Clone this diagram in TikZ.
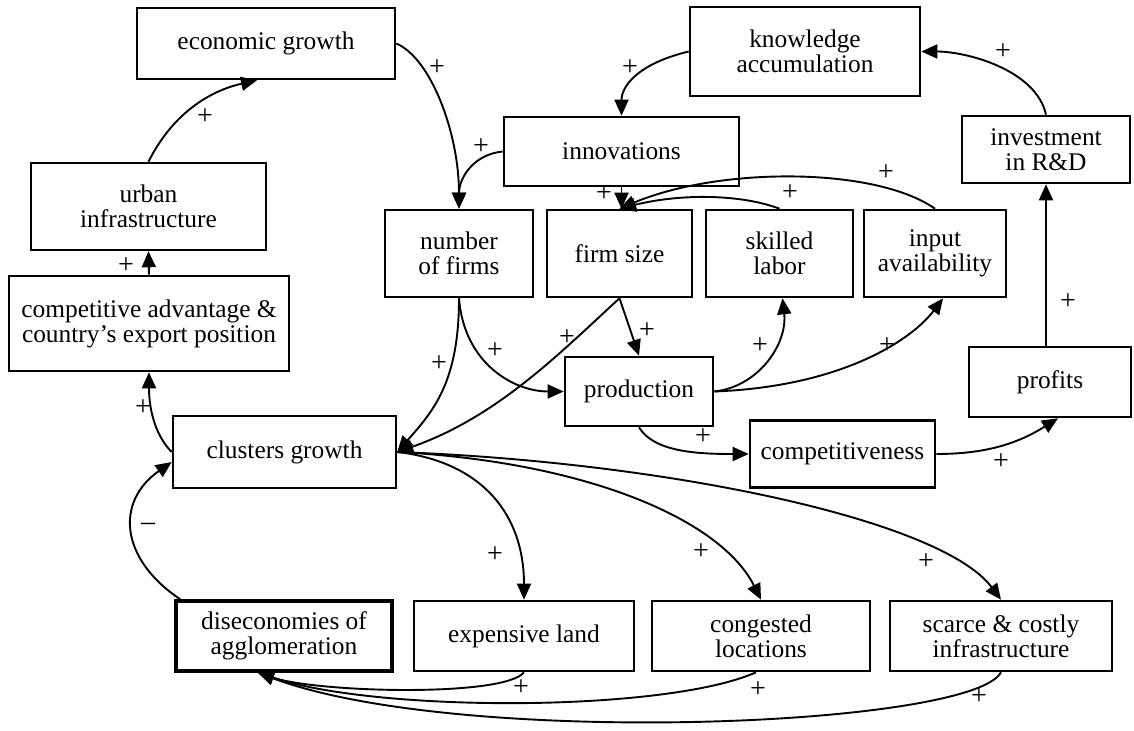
\documentclass[tikz,border=0pt]{standalone}
\usepackage{fontspec}
\setmainfont{Liberation Serif}
\usepackage{tikz}
\usetikzlibrary{arrows.meta}
\usetikzlibrary{calc}

\begin{document}
\begin{tikzpicture}[x=0.5pt,y=-0.5pt,
        box/.style={draw, line width=1.3pt, align=center, inner sep=0pt, font=\fontsize{12.7}{12.5}\selectfont},
        arr/.style={line width=0.95pt, -{Triangle[length=8pt,width=7pt]}},
        sign/.style={inner sep=0pt, font=\fontsize{14}{14}\selectfont}]
        \useasboundingbox (0,0) rectangle (1134,731);

        % top row
        \node[box, minimum width=129pt, minimum height=35.5pt] (econ) at (266,43.5) {economic growth};
        \node[box, minimum width=115pt, minimum height=44.5pt] (know) at (805,51.5) {knowledge\\accumulation};
        \node[box, minimum width=117.5pt, minimum height=34.5pt] (innov) at (621.5,151.5) {innovations};
        \node[box, minimum width=84pt, minimum height=33.5pt] (invest) at (1046,149.5) {investment\\in R\&D};

        % left column
        \node[box, minimum width=117.5pt, minimum height=43.5pt] (urban) at (148.5,206.5) {urban\\infrastructure};
        \node[box, minimum width=140pt, minimum height=47.5pt] (comp) at (149,323.5) {competitive advantage \&\\country's export position};
        \node[box, minimum width=111.5pt, minimum height=36pt] (clusters) at (284.5,452) {clusters growth};

        % middle row
        \node[box, minimum width=74pt, minimum height=43.5pt] (nfirms) at (459,253.5) {number\\of firms};
        \node[box, minimum width=72.5pt, minimum height=43.5pt] (fsize) at (619.5,253.5) {firm size};
        \node[box, minimum width=73.5pt, minimum height=43.5pt] (skilled) at (779.5,253.5) {skilled\\labor};
        \node[box, minimum width=71pt, minimum height=43.5pt] (input) at (935,253.5) {input\\availability};
        \node[box, minimum width=74pt, minimum height=34.5pt] (prod) at (639,391.5) {production};
        \node[box, minimum width=81pt, minimum height=35pt] (profits) at (1050,382) {profits};
        \node[box, minimum width=92.5pt, minimum height=33.5pt] (compet) at (842.5,454) {competitiveness};

        % bottom row
        \node[box, line width=1.7pt, minimum width=108pt, minimum height=35pt] (disecon) at (284,636) {diseconomies of\\agglomeration};
        \node[box, minimum width=110pt, minimum height=35pt] (expland) at (524,636) {expensive land};
        \node[box, minimum width=109pt, minimum height=35pt] (cong) at (761,636) {congested\\locations};
        \node[box, minimum width=111pt, minimum height=35pt] (scarce) at (1001,636) {scarce \& costly\\infrastructure};
        \coordinate (dtip) at ($(disecon.south)+(-26,0)$);

        % growth loop
        \draw[arr] (econ.east) .. controls +(35,15) and +(0,-75) .. (nfirms.north);
        \draw[arr] (innov.west) .. controls +(-30,3) and +(0,-30) .. (nfirms.north);
        \draw[arr] (know.west) .. controls +(-50,12) and +(0,-30) .. (innov.north);
        \draw[arr] (invest.north) .. controls +(-10,-45) and +(45,0) .. (know.east);
        \draw[arr] (invest.south |- profits.north) -- (invest.south);
        \draw[arr] (compet.east) .. controls +(50,0) and +(-40,25) .. ($(profits.south)+(8,0)$);
        \draw[arr] (prod.south) .. controls +(15,25) and +(-50,0) .. (compet.west);
        \draw[arr] (prod.east) .. controls +(45,-5) and +(5,45) .. ($(skilled.south)+(3,0)$);
        \draw[arr] (prod.east) .. controls +(130,-5) and +(-30,40) .. ($(input.south)+(8,0)$);
        \draw[arr] (fsize.south) -- (prod.north);
        \draw[arr] (nfirms.south) .. controls +(5,65) and +(-50,0) .. (prod.west);
        \draw[arr] (nfirms.south) .. controls +(0,85) and +(35,-40) .. (clusters.east);
        \draw[arr] (fsize.south) .. controls +(-60,55) and +(100,-35) .. (clusters.east);
        \draw[arr] (innov.south) -- (innov.south |- fsize.north);
        \draw[arr] (skilled.north) .. controls +(-40,-15) and +(60,-15) .. (fsize.north);
        \draw[arr] (input.north) .. controls +(-60,-42) and +(100,-42) .. (fsize.north);

        % left loop
        \draw[arr] (clusters.west) .. controls +(-15,-15) and +(0,40) .. (comp.south);
        \draw[arr] (comp.north) -- (urban.south);
        \draw[arr] (urban.north) .. controls +(25,-50) and +(-45,10) .. ($(econ.south)+(-9,0)$);

        % congestion loop
        \draw[arr] (clusters.east) .. controls +(85,10) and +(0,-85) .. (expland.north);
        \draw[arr] (clusters.east) .. controls +(190,10) and +(-40,-80) .. (cong.north);
        \draw[arr] (clusters.east) .. controls +(270,10) and +(-60,-80) .. (scarce.north);
        \draw[arr] (expland.south) .. controls +(-20,25) and +(60,20) .. (dtip);
        \draw[arr] ($(cong.south)+(-5,0)$) .. controls +(-90,40) and +(120,40) .. (dtip);
        \draw[arr] (scarce.south) .. controls +(-30,55) and +(200,75) .. (dtip);
        \draw[arr] ($(disecon.north west)+(6,0)$) .. controls +(-60,-40) and +(-57,40) .. ($(clusters.west)+(0,10)$);

        % polarities
        \node[sign] (s1) at (437,68) {+};
        \node[sign] (s2) at (481,147) {+};
        \node[sign] (s3) at (630,68) {+};
        \node[sign] (s4) at (1003,52) {+};
        \node[sign] (s5) at (1068,302) {+};
        \node[sign] (s6) at (1001,462) {+};
        \node[sign] (s7) at (703,437) {+};
        \node[sign] (s8) at (760,346) {+};
        \node[sign] (s9) at (887,346) {+};
        \node[sign] (s10) at (647,331) {+};
        \node[sign] (s11) at (495,351) {+};
        \node[sign] (s12) at (439,364) {+};
        \node[sign] (s13) at (567,338) {+};
        \node[sign] (s14) at (604,194) {+};
        \node[sign] (s15) at (790,193) {+};
        \node[sign] (s16) at (886,173) {+};
        \node[sign] (s17) at (143,408) {+};
        \node[sign] (s18) at (126,266) {+};
        \node[sign] (s19) at (205,117) {+};
        \node[sign] (s20) at (495,555) {+};
        \node[sign] (s21) at (701,552) {+};
        \node[sign] (s22) at (926,562) {+};
        \node[sign] (s23) at (521,688) {+};
        \node[sign] (s24) at (758,690) {+};
        \node[sign] (s25) at (979,697) {+};
        \node[sign] (s26) at (148,527) {--};
\end{tikzpicture}
\end{document}
